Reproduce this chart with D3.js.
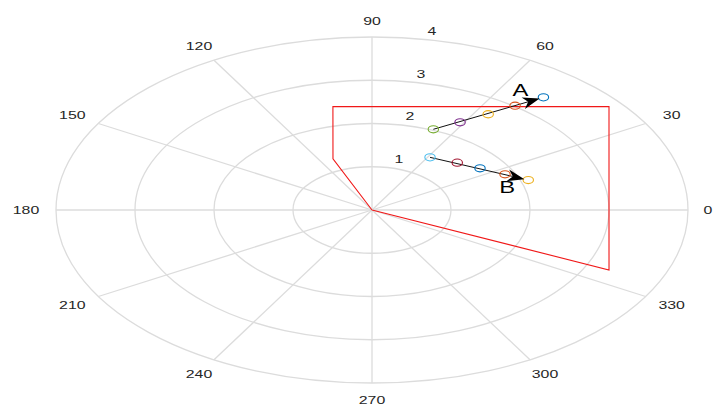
<!DOCTYPE html>
<html><head><meta charset="utf-8">
<script src="https://cdn.jsdelivr.net/npm/d3@7"></script>
<style>html,body{margin:0;padding:0;background:#fff;overflow:hidden}</style>
</head><body>
<svg id="chart" width="715" height="405"></svg>
<script>
// ---- data ----
const angleTicks = [0, 30, 60, 90, 120, 150, 180, 210, 240, 270, 300, 330];
const radialTicks = [1, 2, 3, 4];
const boundaryTheta = [0, 112.7, 101.7, 38.55, -24.8, 0];
const boundaryRho   = [0, 1.28, 2.44, 3.836, 3.305, 0];
const pathATheta = [67.4, 61.2, 56.4, 53.1, 50.2];
const pathARho   = [2.021, 2.314, 2.658, 3.016, 3.390];
const pathAColors = ["#77AC30", "#7E2F8E", "#EDB120", "#D95319", "#0072BD"];
const pathBTheta = [58.9, 45.4, 35.2, 26.1, 19.3];
const pathBRho   = [1.422, 1.537, 1.673, 1.875, 2.096];
const pathBColors = ["#4DBEEE", "#A2142F", "#0072BD", "#D95319", "#EDB120"];
const arrowLabels = ["A", "B"];

// ---- layout ----
const cx = 372, cy = 210, RX = 316, RY = 173, rMax = 4;
const sx = d3.scaleLinear().domain([-rMax, rMax]).range([cx - RX, cx + RX]);
const sy = d3.scaleLinear().domain([-rMax, rMax]).range([cy + RY, cy - RY]);
const rad = d => d * Math.PI / 180;
const P = (t, r) => [sx(r * Math.cos(rad(t))), sy(r * Math.sin(rad(t)))];

const svg = d3.select("#chart");
const grid = "#dcdcdc";
const textCol = "#262626";
const font = "'Liberation Sans', Arial, sans-serif";

// rings
svg.append("g").selectAll("ellipse").data(radialTicks).join("ellipse")
  .attr("cx", cx).attr("cy", cy)
  .attr("rx", d => sx(d) - cx).attr("ry", d => cy - sy(d))
  .attr("fill", "none").attr("stroke", grid).attr("stroke-width", 1.3);

// spokes
svg.append("g").selectAll("line").data(angleTicks).join("line")
  .attr("x1", cx).attr("y1", cy)
  .attr("x2", d => P(d, rMax)[0]).attr("y2", d => P(d, rMax)[1])
  .attr("stroke", grid).attr("stroke-width", 1.3);

// angle labels
const stretch = 1.38;
svg.append("g").selectAll("text").data(angleTicks).join("text")
  .attr("transform", d => {
    const p = P(d, 4.38);
    const x = Math.min(p[0], 708);
    return `translate(${x},${p[1]}) scale(${stretch},1)`;
  })
  .attr("text-anchor", "middle").attr("dominant-baseline", "central")
  .attr("font-family", font).attr("font-size", 11.5).attr("fill", textCol)
  .text(d => d);

// radial labels
svg.append("g").selectAll("text").data(radialTicks).join("text")
  .attr("transform", d => { const p = P(82, d); return `translate(${p[0] + 16},${p[1] - 8}) scale(${stretch},1)`; })
  .attr("text-anchor", "middle").attr("dominant-baseline", "central")
  .attr("font-family", font).attr("font-size", 11.5).attr("fill", textCol)
  .text(d => d);

// boundary polygon
const boundary = boundaryTheta.map((t, i) => P(t, boundaryRho[i]));
svg.append("path").attr("d", d3.line()(boundary))
  .attr("fill", "none").attr("stroke", "#f01818").attr("stroke-width", 1.1);

// arrows
function drawPath(thetas, rhos, colors, label, labelOffset) {
  const pts = thetas.map((t, i) => P(t, rhos[i]));
  const g = svg.append("g");
  const s = pts[0], e = pts[pts.length - 1];
  const dx = e[0] - s[0], dy = e[1] - s[1], L = Math.hypot(dx, dy);
  const ux = dx / L, uy = dy / L;
  const tip = [e[0] - ux * 4, e[1] - uy * 4];
  const hl = 17, hw = 6;
  const base = [tip[0] - ux * hl, tip[1] - uy * hl];
  const notch = [tip[0] - ux * hl * 0.7, tip[1] - uy * hl * 0.7];
  g.append("line").attr("x1", s[0]).attr("y1", s[1]).attr("x2", notch[0]).attr("y2", notch[1])
    .attr("stroke", "#111").attr("stroke-width", 1);
  g.selectAll("ellipse").data(pts).join("ellipse")
    .attr("cx", d => d[0]).attr("cy", d => d[1]).attr("rx", 5.2).attr("ry", 3.6)
    .attr("fill", "none").attr("stroke", (d, i) => colors[i]).attr("stroke-width", 1.1);
  g.append("path").attr("d", d3.line()([
      tip,
      [base[0] - uy * hw, base[1] + ux * hw],
      notch,
      [base[0] + uy * hw, base[1] - ux * hw]
    ]) + "Z").attr("fill", "#000");
  g.append("text")
    .attr("transform", `translate(${e[0] + labelOffset[0]},${e[1] + labelOffset[1]}) scale(1.4,1)`)
    .attr("text-anchor", "middle").attr("dominant-baseline", "central")
    .attr("font-family", font).attr("font-size", 17).attr("fill", "#000")
    .text(label);
}
drawPath(pathATheta, pathARho, pathAColors, arrowLabels[0], [-23, -8]);
drawPath(pathBTheta, pathBRho, pathBColors, arrowLabels[1], [-21, 7]);
</script>
</body></html>
